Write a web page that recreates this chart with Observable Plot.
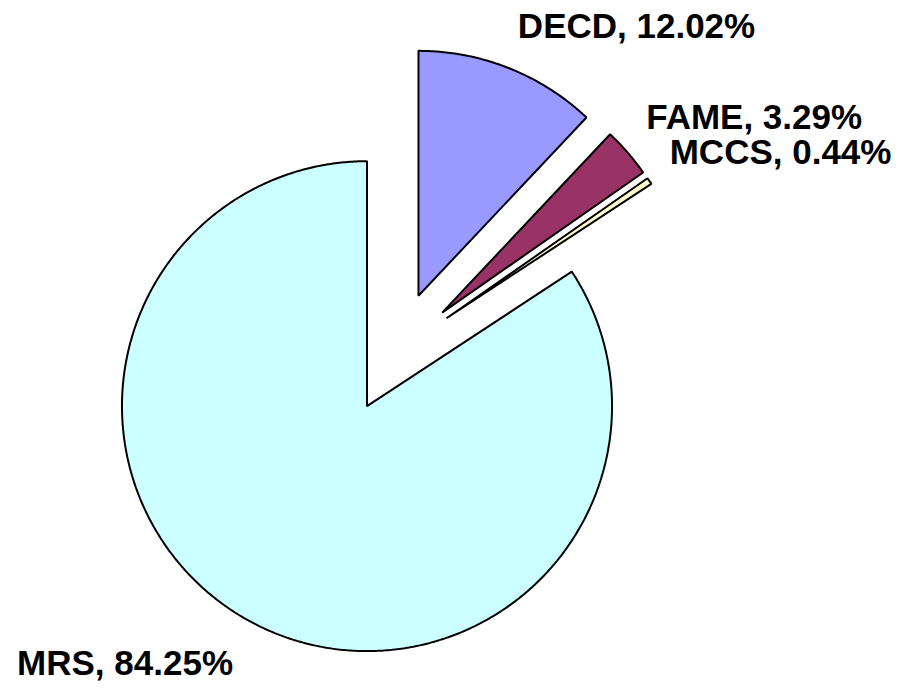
<!DOCTYPE html>
<html><head><meta charset="utf-8">
<script src="https://cdn.jsdelivr.net/npm/d3@7"></script>
<script src="https://cdn.jsdelivr.net/npm/@observablehq/plot@0.6"></script>
<style>body{margin:0;background:#fff}</style>
</head><body><div id="chart"></div>
<script>
const names = ["DECD", "FAME", "MCCS", "MRS"];
const shares = [12.02, 3.29, 0.44, 84.25];
const colors = ["#9999FF", "#993366", "#FFFFCC", "#CCFFFF"];

// layout (in pie-radius units)
const xDomain = [-1.614, 2.059], yDomain = [-1.376, 1.437];
const W = 900, H = 689;
const pxPerUnit = W / (xDomain[1] - xDomain[0]);
const explode = 0.249;
const labelR = 1.1;
const fontSize = 35;
const ascent = 0.905, descent = 0.212; // Arial-like font metrics (em)

const arcs = d3.pie().sort(null).value((d, i) => shares[i])(names);
const outline = [];
const labelRows = [];
arcs.forEach((a, i) => {
  const mid = (a.startAngle + a.endAngle) / 2;
  const ox = explode * Math.sin(mid), oy = explode * Math.cos(mid);
  outline.push({name: names[i], x: ox, y: oy});
  const n = Math.max(2, Math.ceil((a.endAngle - a.startAngle) / (Math.PI / 360)));
  for (let k = 0; k <= n; k++) {
    const t = a.startAngle + (a.endAngle - a.startAngle) * k / n;
    outline.push({name: names[i], x: ox + Math.sin(t), y: oy + Math.cos(t)});
  }
  labelRows.push({
    label: `${names[i]}, ${shares[i].toFixed(2)}%`,
    x: ox + labelR * Math.sin(mid),
    y: oy + labelR * Math.cos(mid),
    right: Math.sin(mid) >= 0
  });
});
// simple collision avoidance: keep right-side labels one line apart
const rightLabels = labelRows.filter(d => d.right);
const lineUnits = fontSize / pxPerUnit;
for (let i = 1; i < rightLabels.length; i++) {
  const prev = rightLabels[i - 1], cur = rightLabels[i];
  if (prev.y - cur.y < lineUnits) cur.y = prev.y - lineUnits;
}

const font = {fontFamily: "Liberation Sans, Arial, sans-serif", fontWeight: "bold", fontSize, fill: "black"};

const chart = Plot.plot({
  width: W,
  height: H,
  margin: 0,
  x: {domain: xDomain, axis: null},
  y: {domain: yDomain, axis: null},
  color: {domain: names, range: colors},
  marks: [
    Plot.line(outline, {x: "x", y: "y", z: "name", fill: "name", stroke: "black", strokeWidth: 2,
      strokeLinejoin: "miter", curve: "linear-closed"}),
    Plot.text(rightLabels, {x: "x", y: "y", text: "label", textAnchor: "start", lineAnchor: "bottom",
      dy: -descent * fontSize, ...font}),
    Plot.text(labelRows.filter(d => !d.right), {x: "x", y: "y", text: "label", textAnchor: "end", lineAnchor: "bottom",
      dy: ascent * fontSize, dx: -6, ...font})
  ]
});
document.getElementById("chart").append(chart);
</script>
</body></html>
